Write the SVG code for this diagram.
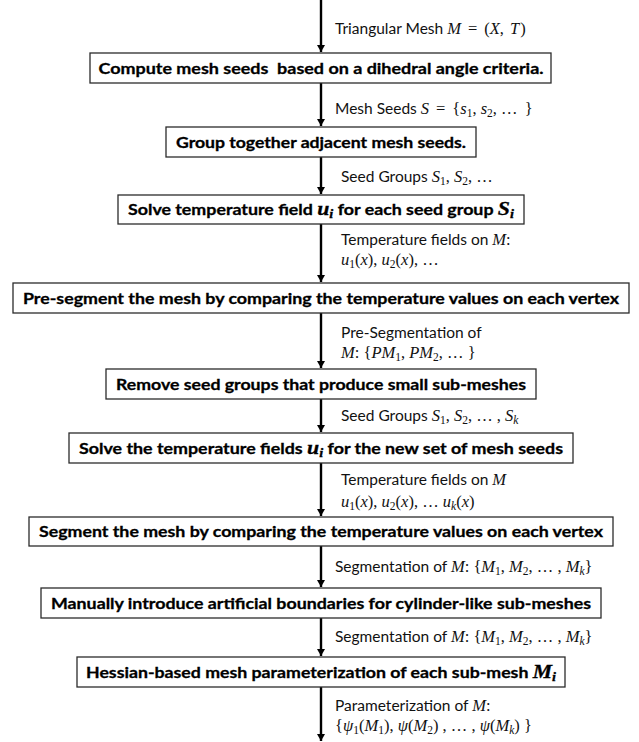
<svg xmlns="http://www.w3.org/2000/svg" width="639" height="742" viewBox="0 0 639 742">
<style>
.box{fill:#fff;stroke:#2b2b2b;stroke-width:1.3}
.bt{font-family:Lato,"Liberation Sans",sans-serif;font-weight:bold;font-size:15.5px;fill:#000;stroke:#000;stroke-width:0.3;text-anchor:middle}
.lb{font-family:Lato,"Liberation Sans",sans-serif;font-size:15.5px;fill:#111}
.m{font-family:"Liberation Serif","DejaVu Serif",serif;font-size:16.5px}
.mi{font-family:"Liberation Serif","DejaVu Serif",serif;font-style:italic;font-size:16.5px}
.sb{font-family:"Liberation Serif","DejaVu Serif",serif;font-size:11.5px}
.sbi{font-family:"Liberation Serif","DejaVu Serif",serif;font-style:italic;font-size:11.5px}
.bm{font-family:"Liberation Serif","DejaVu Serif",serif;font-style:italic;font-weight:bold;font-size:19px}
.bs{font-family:"Liberation Serif","DejaVu Serif",serif;font-style:italic;font-weight:bold;font-size:12.5px}
.ar{stroke:#000;stroke-width:2.4;fill:none}
</style>
<defs>
<marker id="ah" markerUnits="userSpaceOnUse" markerWidth="10" markerHeight="10" viewBox="-8 -5 10 10" refX="0" refY="0" orient="auto">
<path d="M-7,-4 L0,0 L-7,4 Z" fill="#000"/>
</marker>
</defs>
<rect width="639" height="742" fill="#fff"/>
<g id="connectors">
<line class="ar" x1="321" y1="0" x2="321" y2="52" marker-end="url(#ah)"/>
<line class="ar" x1="321" y1="83" x2="321" y2="126" marker-end="url(#ah)"/>
<line class="ar" x1="321" y1="157" x2="321" y2="194" marker-end="url(#ah)"/>
<line class="ar" x1="321" y1="224" x2="321" y2="282" marker-end="url(#ah)"/>
<line class="ar" x1="321" y1="313" x2="321" y2="368" marker-end="url(#ah)"/>
<line class="ar" x1="321" y1="399" x2="321" y2="432" marker-end="url(#ah)"/>
<line class="ar" x1="321" y1="463" x2="321" y2="516" marker-end="url(#ah)"/>
<line class="ar" x1="321" y1="546" x2="321" y2="587" marker-end="url(#ah)"/>
<line class="ar" x1="321" y1="618" x2="321" y2="656" marker-end="url(#ah)"/>
<line class="ar" x1="321" y1="687" x2="321" y2="741" marker-end="url(#ah)"/>
</g>
<g id="labels">
<text class="lb" x="335" y="34">Triangular Mesh <tspan class="mi">M</tspan><tspan class="m" dx="7">=</tspan><tspan class="m" dx="7">(</tspan><tspan class="mi">X</tspan><tspan class="m">, </tspan><tspan class="mi" dx="2">T</tspan><tspan class="m" dx="1">)</tspan></text>
<text class="lb" x="335" y="114">Mesh Seeds <tspan class="mi">S</tspan><tspan class="m" dx="7">=</tspan><tspan class="m" dx="7">{</tspan><tspan class="mi">s</tspan><tspan class="sb" dy="3">1</tspan><tspan class="m" dy="-3">, </tspan><tspan class="mi">s</tspan><tspan class="sb" dy="3">2</tspan><tspan class="m" dy="-3">, … </tspan><tspan class="m" dx="3">}</tspan></text>
<text class="lb" x="341" y="182">Seed Groups <tspan class="mi">S</tspan><tspan class="sb" dy="3">1</tspan><tspan class="m" dy="-3">, </tspan><tspan class="mi">S</tspan><tspan class="sb" dy="3">2</tspan><tspan class="m" dy="-3">, …</tspan></text>
<text class="lb" x="341" y="245">Temperature fields on <tspan class="mi">M</tspan><tspan class="m">:</tspan></text>
<text class="lb" x="341" y="265"><tspan class="mi">u</tspan><tspan class="sb" dy="3">1</tspan><tspan class="m" dy="-3">(</tspan><tspan class="mi">x</tspan><tspan class="m">), </tspan><tspan class="mi">u</tspan><tspan class="sb" dy="3">2</tspan><tspan class="m" dy="-3">(</tspan><tspan class="mi">x</tspan><tspan class="m">), …</tspan></text>
<text class="lb" x="341" y="338">Pre-Segmentation of</text>
<text class="lb" x="341" y="358"><tspan class="mi">M</tspan><tspan class="m">: {</tspan><tspan class="mi">PM</tspan><tspan class="sb" dy="3">1</tspan><tspan class="m" dy="-3">, </tspan><tspan class="mi">PM</tspan><tspan class="sb" dy="3">2</tspan><tspan class="m" dy="-3">, … }</tspan></text>
<text class="lb" x="341" y="421">Seed Groups <tspan class="mi">S</tspan><tspan class="sb" dy="3">1</tspan><tspan class="m" dy="-3">, </tspan><tspan class="mi">S</tspan><tspan class="sb" dy="3">2</tspan><tspan class="m" dy="-3">, … , </tspan><tspan class="mi">S</tspan><tspan class="sbi" dy="3">k</tspan></text>
<text class="lb" x="341" y="485">Temperature fields on <tspan class="mi">M</tspan></text>
<text class="lb" x="341" y="507"><tspan class="mi">u</tspan><tspan class="sb" dy="3">1</tspan><tspan class="m" dy="-3">(</tspan><tspan class="mi">x</tspan><tspan class="m">), </tspan><tspan class="mi">u</tspan><tspan class="sb" dy="3">2</tspan><tspan class="m" dy="-3">(</tspan><tspan class="mi">x</tspan><tspan class="m">), … </tspan><tspan class="mi">u</tspan><tspan class="sbi" dy="3">k</tspan><tspan class="m" dy="-3">(</tspan><tspan class="mi">x</tspan><tspan class="m">)</tspan></text>
<text class="lb" x="335" y="572">Segmentation of <tspan class="mi">M</tspan><tspan class="m">: {</tspan><tspan class="mi">M</tspan><tspan class="sb" dy="3">1</tspan><tspan class="m" dy="-3">, </tspan><tspan class="mi">M</tspan><tspan class="sb" dy="3">2</tspan><tspan class="m" dy="-3">, … , </tspan><tspan class="mi">M</tspan><tspan class="sbi" dy="3">k</tspan><tspan class="m" dy="-3">}</tspan></text>
<text class="lb" x="335" y="642">Segmentation of <tspan class="mi">M</tspan><tspan class="m">: {</tspan><tspan class="mi">M</tspan><tspan class="sb" dy="3">1</tspan><tspan class="m" dy="-3">, </tspan><tspan class="mi">M</tspan><tspan class="sb" dy="3">2</tspan><tspan class="m" dy="-3">, … , </tspan><tspan class="mi">M</tspan><tspan class="sbi" dy="3">k</tspan><tspan class="m" dy="-3">}</tspan></text>
<text class="lb" x="335" y="711">Parameterization of <tspan class="mi">M</tspan><tspan class="m">:</tspan></text>
<text class="lb" x="335" y="731"><tspan class="m">{</tspan><tspan class="mi">ψ</tspan><tspan class="sb" dy="3">1</tspan><tspan class="m" dy="-3">(</tspan><tspan class="mi">M</tspan><tspan class="sb" dy="3">1</tspan><tspan class="m" dy="-3">), </tspan><tspan class="mi">ψ</tspan><tspan class="m">(</tspan><tspan class="mi">M</tspan><tspan class="sb" dy="3">2</tspan><tspan class="m" dy="-3">) , … , </tspan><tspan class="mi">ψ</tspan><tspan class="m">(</tspan><tspan class="mi">M</tspan><tspan class="sbi" dy="3">k</tspan><tspan class="m" dy="-3">) }</tspan></text>
</g>
<g id="n1"><rect class="box" x="90" y="53" width="461" height="30"/><text class="bt" x="321" y="73.5" textLength="445" lengthAdjust="spacingAndGlyphs" xml:space="preserve">Compute mesh seeds  based on a dihedral angle criteria.</text></g>
<g id="n2"><rect class="box" x="166" y="127" width="310" height="30"/><text class="bt" x="321" y="147.5" textLength="290" lengthAdjust="spacingAndGlyphs">Group together adjacent mesh seeds.</text></g>
<g id="n3"><rect class="box" x="118" y="195" width="406" height="29"/><text class="bt" x="321" y="215" textLength="386" lengthAdjust="spacingAndGlyphs">Solve temperature field <tspan class="bm">u</tspan><tspan class="bs" dy="3">i</tspan><tspan dy="-3"> for each seed group </tspan><tspan class="bm">S</tspan><tspan class="bs" dy="3">i</tspan></text></g>
<g id="n4"><rect class="box" x="13" y="283" width="616" height="30"/><text class="bt" x="321" y="303.5" textLength="596" lengthAdjust="spacingAndGlyphs">Pre-segment the mesh by comparing the temperature values on each vertex</text></g>
<g id="n5"><rect class="box" x="106" y="369" width="430" height="30"/><text class="bt" x="321" y="389.5" textLength="410" lengthAdjust="spacingAndGlyphs">Remove seed groups that produce small sub-meshes</text></g>
<g id="n6"><rect class="box" x="69" y="433" width="504" height="30"/><text class="bt" x="321" y="453.5" textLength="484" lengthAdjust="spacingAndGlyphs">Solve the temperature fields <tspan class="bm">u</tspan><tspan class="bs" dy="3">i</tspan><tspan dy="-3"> for the new set of mesh seeds</tspan></text></g>
<g id="n7"><rect class="box" x="29" y="517" width="584" height="29"/><text class="bt" x="321" y="537" textLength="564" lengthAdjust="spacingAndGlyphs">Segment the mesh by comparing the temperature values on each vertex</text></g>
<g id="n8"><rect class="box" x="41" y="588" width="560" height="30"/><text class="bt" x="321" y="608.5" textLength="540" lengthAdjust="spacingAndGlyphs">Manually introduce artificial boundaries for cylinder-like sub-meshes</text></g>
<g id="n9"><rect class="box" x="77" y="657" width="488" height="30"/><text class="bt" x="321" y="677.5" textLength="470" lengthAdjust="spacingAndGlyphs">Hessian-based mesh parameterization of each sub-mesh <tspan class="bm">M</tspan><tspan class="bs" dy="3">i</tspan></text></g>
</svg>
